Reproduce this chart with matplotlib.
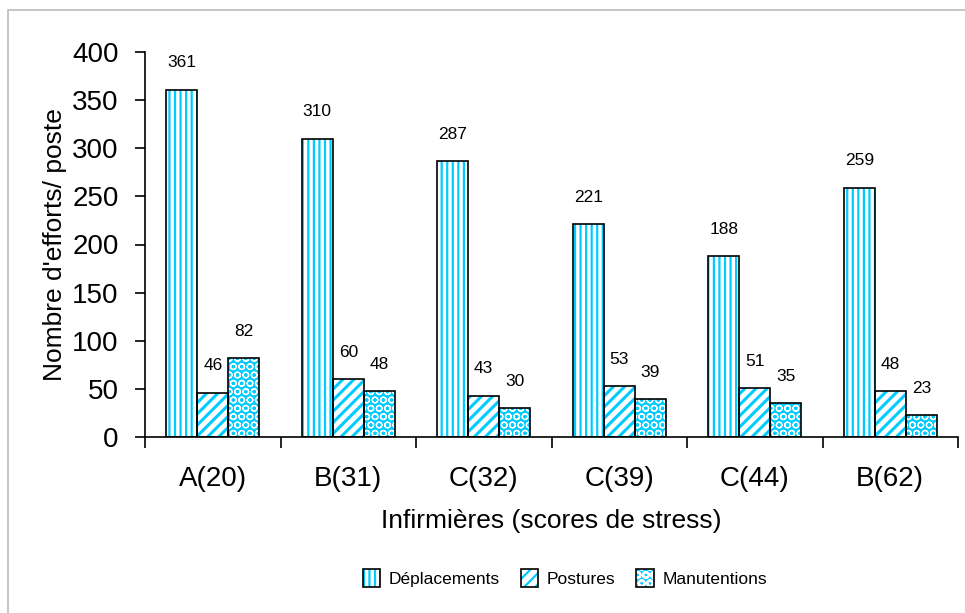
import matplotlib
matplotlib.use("Agg")
import matplotlib.pyplot as plt
from matplotlib.patches import Patch, Rectangle
import numpy as np

categories = ["A(20)", "B(31)", "C(32)", "C(39)", "C(44)", "B(62)"]
series_names = ["Déplacements", "Postures", "Manutentions"]
deplacements = [361, 310, 287, 221, 188, 259]
postures = [46, 60, 43, 53, 51, 48]
manutentions = [82, 48, 30, 39, 35, 23]

CYAN = "#00CCFF"
plt.rcParams['font.family'] = ['Liberation Sans', 'DejaVu Sans']
plt.rcParams['hatch.linewidth'] = 1.6

fig = plt.figure(figsize=(9.65, 6.13), dpi=100)
fig.patches.append(Rectangle((8/965, -0.1), 1.2, 1 - 10/613 + 0.1, transform=fig.transFigure,
                             fill=False, edgecolor="#BBBBBB", linewidth=1.2))
ax = fig.add_axes([145/965, 1 - 437/613, (958-145)/965, (437-52)/613])

x = np.arange(len(categories))
w = 0.229
styles = [
    dict(face="white", hcol=CYAN, hatch="|||", hlw=1.6),
    dict(face="white", hcol=CYAN, hatch="///", hlw=2.2),
    dict(face=CYAN, hcol="white", hatch="OO", hlw=0.9),
]
data = [deplacements, postures, manutentions]


def set_hlw(artists, lw):
    for a in artists:
        try:
            a.set_hatch_linewidth(lw)
        except Exception:
            pass


handles = []
for i, (vals, st) in enumerate(zip(data, styles)):
    pos = x + (i - 1) * w
    bars = ax.bar(pos, vals, w, color=st["face"], edgecolor=st["hcol"], hatch=st["hatch"], linewidth=0, zorder=2)
    set_hlw(bars, st["hlw"])
    ax.bar(pos, vals, w, fill=False, edgecolor="black", linewidth=1.2, zorder=3)
    for p, v in zip(pos, vals):
        ax.text(p, v + 20, str(v), ha="center", va="bottom", fontsize=12.5)
    h1 = Patch(facecolor=st["face"], edgecolor=st["hcol"], hatch=st["hatch"], linewidth=0)
    set_hlw([h1], st["hlw"])
    h2 = Patch(fill=False, edgecolor="black", linewidth=1.2)
    handles.append((h1, h2))

ax.set_xlim(-0.5, 5.5)
ax.set_ylim(0, 400)
ax.set_yticks(range(0, 401, 50))
ax.tick_params(axis='y', labelsize=20, length=7, width=1.2, direction='out', pad=12)
ax.set_xticks(np.arange(-0.5, 6, 1))
ax.set_xticklabels([])
ax.tick_params(axis='x', length=8, width=1.2, direction='out')
ax.set_xticks(x, minor=True)
ax.set_xticklabels(categories, minor=True)
ax.tick_params(axis='x', which='minor', length=0, labelsize=20, pad=21)
for s in ["top", "right"]:
    ax.spines[s].set_visible(False)
for s in ["left", "bottom"]:
    ax.spines[s].set_linewidth(1.2)

ax.set_xlabel("Infirmières (scores de stress)", fontsize=19, labelpad=12)
ax.set_ylabel("Nombre d'efforts/ poste", fontsize=19, labelpad=4)

ax.legend(handles, series_names, loc="center", bbox_to_anchor=(565/965, 1 - 578/613),
          bbox_transform=fig.transFigure, ncol=3, frameon=False, fontsize=12.5,
          handlelength=1.0, handleheight=1.2, handletextpad=0.5, columnspacing=1.2)

fig.savefig("out.png", dpi=100)
